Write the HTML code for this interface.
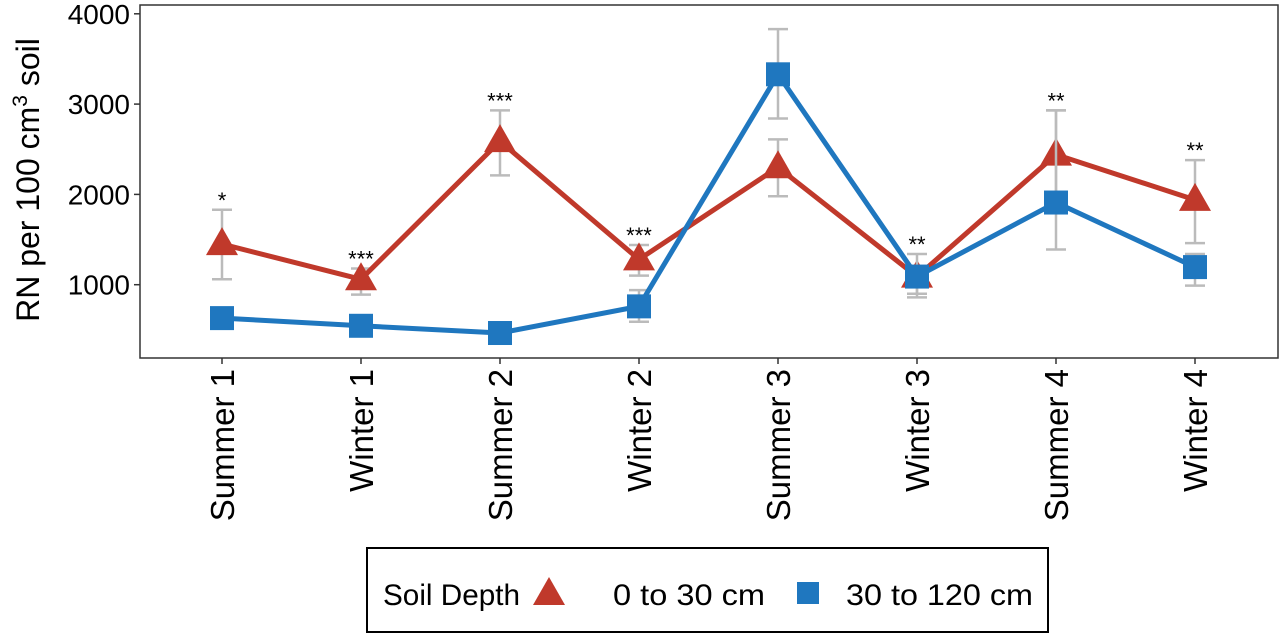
<!DOCTYPE html>
<html><head><meta charset="utf-8"><style>
body{margin:0;background:#fff;width:1280px;height:634px;overflow:hidden}
svg text{font-family:"Liberation Sans",sans-serif;fill:#000}
</style></head><body>
<svg id="chart" width="1280" height="634"></svg>
<script>
const categories=["Summer 1","Winter 1","Summer 2","Winter 2","Summer 3","Winter 3","Summer 4","Winter 4"];
const shallowMean=[1450,1060,2590,1280,2300,1090,2440,1940];
const shallowHi=[1830,1180,2930,1440,2610,1180,2930,2380];
const shallowLo=[1060,890,2210,1100,1980,900,1940,1460];
const deepMean=[630,545,465,760,3330,1090,1910,1195];
const deepHi=[730,600,580,940,3830,1340,2930,1340];
const deepLo=[530,490,350,590,2840,860,1390,990];
const sig=["*","***","***","***","","**","**","**"];
const yTicks=[1000,2000,3000,4000];
const NS="http://www.w3.org/2000/svg";
const svg=document.getElementById('chart');
const L=140,R=1278,T=5,B=358;
const x=i=>222+i*139;
const y=v=>375-v*0.0903;
function mk(t,a,p){const e=document.createElementNS(NS,t);for(const k in a)e.setAttribute(k,a[k]);(p||svg).appendChild(e);return e;}
const frame=mk('rect',{x:L,y:T,width:R-L,height:B-T,fill:'none',stroke:'#333','stroke-width':1.5});


yTicks.forEach(v=>{
  const tk=mk('line',{x1:L-6,x2:L,y1:y(v),y2:y(v),stroke:'#333','stroke-width':1.5});
  
  
  const t=mk('text',{x:L-10,y:y(v)+10,'text-anchor':'end','font-size':28});
  t.textContent=v;
  
  
});
categories.forEach((c,i)=>{
  const tk=mk('line',{x1:x(i),x2:x(i),y1:B,y2:B+6,stroke:'#333','stroke-width':1.5});
  
  
  const t=mk('text',{x:0,y:0,'text-anchor':'end','font-size':33,transform:`translate(${x(i)+12},${B+11}) rotate(-90)`});
  t.textContent=c;
  
  
});
const yl=mk('text',{x:0,y:0,'text-anchor':'middle','font-size':32,transform:'translate(39,180) rotate(-90)'});
yl.innerHTML='RN per 100 cm<tspan dy="-12" font-size="21">3</tspan><tspan dy="12"> soil</tspan>';


function series(mean,hi,lo,col,shape,name){
  mean.forEach((m,i)=>{
    const g=mk('g',{stroke:'#bbb','stroke-width':2.5});
    
    
    mk('line',{x1:x(i),x2:x(i),y1:y(hi[i]),y2:y(lo[i])},g);
    mk('line',{x1:x(i)-10,x2:x(i)+10,y1:y(hi[i]),y2:y(hi[i])},g);
    mk('line',{x1:x(i)-10,x2:x(i)+10,y1:y(lo[i]),y2:y(lo[i])},g);
  });
  const pl=mk('polyline',{points:mean.map((m,i)=>x(i)+','+y(m)).join(' '),fill:'none',stroke:col,'stroke-width':5,'stroke-linejoin':'round'});
  
  
  mean.forEach((m,i)=>{
    let e;
    if(shape==='tri') e=mk('polygon',{points:`${x(i)},${y(m)-17} ${x(i)-16},${y(m)+11} ${x(i)+16},${y(m)+11}`,fill:col});
    else e=mk('rect',{x:x(i)-12,y:y(m)-12,width:24,height:24,fill:col});
    
    
  });
}
series(shallowMean,shallowHi,shallowLo,'#c0392b','tri','shallow-0-30cm');
series(deepMean,deepHi,deepLo,'#1f77bf','sq','deep-30-120cm');
sig.forEach((s,i)=>{
  if(!s)return;
  const top=Math.max(shallowHi[i],deepHi[i]);
  const t=mk('text',{x:x(i),y:y(top)-2,'text-anchor':'middle','font-size':22});
  t.textContent=s;
  
  
});
const lg=mk('g',{});


mk('rect',{x:367,y:548,width:681,height:84,fill:'#fff',stroke:'#000','stroke-width':2},lg);
const lt=mk('text',{x:383,y:605,'font-size':30,textLength:137,lengthAdjust:'spacingAndGlyphs'},lg);lt.textContent='Soil Depth';


const lt1=mk('polygon',{points:'549,577 533,605 565,605',fill:'#c0392b'},lg);


const l1=mk('text',{x:613,y:605,'font-size':30,textLength:152,lengthAdjust:'spacingAndGlyphs'},lg);l1.textContent='0 to 30 cm';


const lt2=mk('rect',{x:797,y:582,width:22,height:22,fill:'#1f77bf'},lg);


const l2=mk('text',{x:846,y:605,'font-size':30,textLength:187,lengthAdjust:'spacingAndGlyphs'},lg);l2.textContent='30 to 120 cm';


</script>
</body></html>
